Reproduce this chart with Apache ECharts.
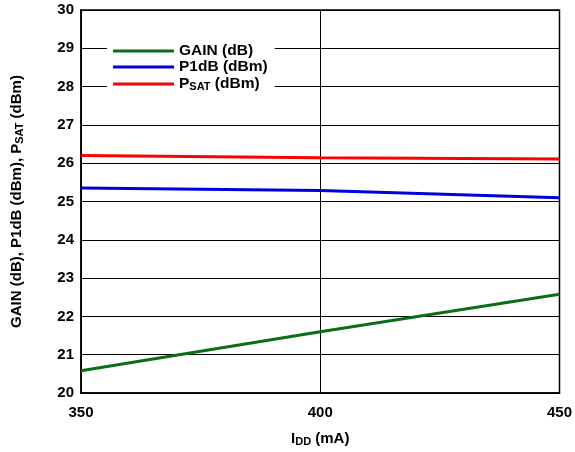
<!DOCTYPE html>
<html>
<head>
<meta charset="utf-8">
<script src="https://cdn.jsdelivr.net/npm/echarts@6/dist/echarts.min.js"></script>
<style>
  html, body { margin: 0; padding: 0; background: #fff; }
  #chart { width: 575px; height: 452px; }
</style>
</head>
<body>
<div id="chart"></div>
<script>
// Drain current (mA)
const idd = [350, 400, 450];
// Measured curves
const gain = [20.58, 21.6, 22.58];
const p1db = [25.35, 25.29, 25.1];
const psat = [26.2, 26.14, 26.11];
const seriesNames = ['GAIN (dB)', 'P1dB (dBm)', 'PSAT (dBm)'];
const seriesColors = ['#0a6e14', '#0000dd', '#ff0000'];

const font = '"Liberation Sans", Arial, sans-serif';
const chart = echarts.init(document.getElementById('chart'), null, { renderer: 'canvas' });

const pair = (vals) => idd.map((x, i) => [x, vals[i]]);
const axisRich = {
  b: { fontFamily: font, fontWeight: 'bold', fontSize: 15, color: '#000' },
  s: { fontFamily: font, fontWeight: 'bold', fontSize: 11, color: '#000', verticalAlign: 'bottom', padding: [6, 0, 0, 0] }
};
const legendRich = {
  b: { fontFamily: font, fontWeight: 'bold', fontSize: 15.5, color: '#000', lineHeight: 16 },
  s: { fontFamily: font, fontWeight: 'bold', fontSize: 11, color: '#000', lineHeight: 16, verticalAlign: 'bottom', padding: [6, 0, 0, 0] }
};

chart.setOption({
  animation: false,
  grid: { left: 81, right: 13, top: 10, bottom: 57, show: true, borderColor: '#000', borderWidth: 1.5 },
  legend: {
    orient: 'vertical',
    left: 107, top: 39,
    backgroundColor: '#fff',
    padding: [4, 7, 4, 6],
    itemWidth: 61, itemHeight: 3, itemGap: 0,
    icon: 'rect',
    data: seriesNames,
    formatter: (n) => n === 'PSAT (dBm)' ? '{b|P}{s|SAT}{b| (dBm)}' : '{b|' + n + '}',
    textStyle: { rich: legendRich, fontFamily: font, fontWeight: 'bold', fontSize: 15.5, lineHeight: 16 }
  },
  xAxis: {
    type: 'value', min: 350, max: 450, interval: 50,
    axisLine: { show: true, lineStyle: { color: '#000', width: 1.5 } },
    axisTick: { show: false },
    axisLabel: { color: '#000', fontFamily: font, fontWeight: 'bold', fontSize: 15, margin: 12 },
    splitLine: { show: true, lineStyle: { color: '#000', width: 1 } },
    name: '{b|I}{s|DD}{b| (mA)}',
    nameLocation: 'middle', nameGap: 37,
    nameTextStyle: { rich: axisRich }
  },
  yAxis: {
    type: 'value', min: 20, max: 30, interval: 1,
    axisLine: { show: true, lineStyle: { color: '#000', width: 1.5 } },
    axisTick: { show: false },
    axisLabel: { color: '#000', fontFamily: font, fontWeight: 'bold', fontSize: 15, margin: 7 },
    splitLine: { show: true, lineStyle: { color: '#000', width: 1 } },
    name: '{b|GAIN (dB), P1dB (dBm), P}{s|SAT}{b| (dBm)}',
    nameLocation: 'middle', nameGap: 56, nameRotate: 90,
    nameTextStyle: { rich: axisRich }
  },
  series: [
    { name: seriesNames[0], type: 'line', data: pair(gain), symbol: 'none', color: seriesColors[0], lineStyle: { width: 3, color: seriesColors[0] } },
    { name: seriesNames[1], type: 'line', data: pair(p1db), symbol: 'none', color: seriesColors[1], lineStyle: { width: 3, color: seriesColors[1] } },
    { name: seriesNames[2], type: 'line', data: pair(psat), symbol: 'none', color: seriesColors[2], lineStyle: { width: 3, color: seriesColors[2] } }
  ]
});
</script>
</body>
</html>
